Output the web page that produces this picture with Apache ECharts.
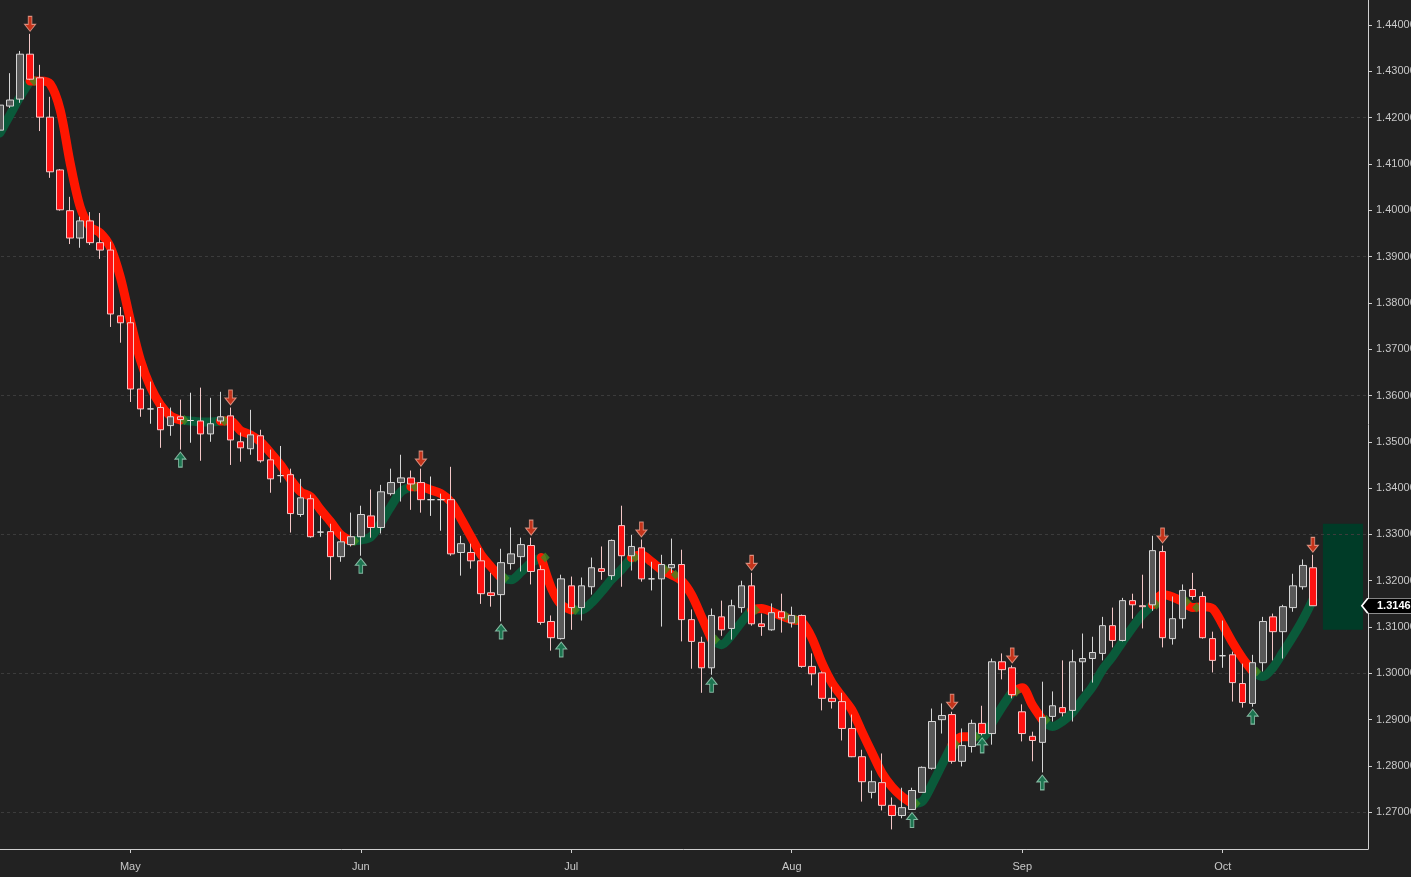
<!DOCTYPE html>
<html>
<head>
<meta charset="utf-8">
<script src="https://cdn.jsdelivr.net/npm/echarts@6.0.0/dist/echarts.min.js"></script>
<style>
html,body{margin:0;padding:0;background:#222222;}
#chart{width:1411px;height:877px;}
</style>
</head>
<body>
<div id="chart"></div>
<script>
// ---- categories (trading days) ----
const dates = [
 '2018-04-12','2018-04-13','2018-04-16','2018-04-17','2018-04-18','2018-04-19','2018-04-20','2018-04-23','2018-04-24','2018-04-25','2018-04-26','2018-04-27','2018-04-30',
 '2018-05-01','2018-05-02','2018-05-03','2018-05-04','2018-05-07','2018-05-08','2018-05-09','2018-05-10','2018-05-11','2018-05-14','2018-05-15','2018-05-16','2018-05-17','2018-05-18','2018-05-21','2018-05-22','2018-05-23','2018-05-24','2018-05-25','2018-05-28','2018-05-29','2018-05-30','2018-05-31',
 '2018-06-01','2018-06-04','2018-06-05','2018-06-06','2018-06-07','2018-06-08','2018-06-11','2018-06-12','2018-06-13','2018-06-14','2018-06-15','2018-06-18','2018-06-19','2018-06-20','2018-06-21','2018-06-22','2018-06-25','2018-06-26','2018-06-27','2018-06-28','2018-06-29',
 '2018-07-02','2018-07-03','2018-07-04','2018-07-05','2018-07-06','2018-07-09','2018-07-10','2018-07-11','2018-07-12','2018-07-13','2018-07-16','2018-07-17','2018-07-18','2018-07-19','2018-07-20','2018-07-23','2018-07-24','2018-07-25','2018-07-26','2018-07-27','2018-07-30','2018-07-31',
 '2018-08-01','2018-08-02','2018-08-03','2018-08-06','2018-08-07','2018-08-08','2018-08-09','2018-08-10','2018-08-13','2018-08-14','2018-08-15','2018-08-16','2018-08-17','2018-08-20','2018-08-21','2018-08-22','2018-08-23','2018-08-24','2018-08-27','2018-08-28','2018-08-29','2018-08-30','2018-08-31',
 '2018-09-03','2018-09-04','2018-09-05','2018-09-06','2018-09-07','2018-09-10','2018-09-11','2018-09-12','2018-09-13','2018-09-14','2018-09-17','2018-09-18','2018-09-19','2018-09-20','2018-09-21','2018-09-24','2018-09-25','2018-09-26','2018-09-27','2018-09-28',
 '2018-10-01','2018-10-02','2018-10-03','2018-10-04','2018-10-05','2018-10-08','2018-10-09','2018-10-10','2018-10-11','2018-10-12','2018-10-15','2018-10-16','2018-10-17','2018-10-18','2018-10-19'
];
const monthNames = ['Jan','Feb','Mar','Apr','May','Jun','Jul','Aug','Sep','Oct','Nov','Dec'];

// ---- OHLC ----
const open = [
 1.4173,1.4225,1.4240,1.4337,1.4286,1.4201,1.4087,1.3999,1.3940,1.3977,1.3930,1.3914,1.3772,
 1.3757,1.3614,1.3571,1.3574,1.3535,1.3554,1.3546,1.3545,1.3517,1.3545,1.3556,1.3500,1.3485,1.3513,1.3461,1.3427,1.3429,1.3343,1.3377,1.3305,1.3306,1.3252,1.3278,
 1.3295,1.3340,1.3315,1.3388,1.3412,1.3422,1.3412,1.3375,1.3375,1.3375,1.3261,1.3261,1.3243,1.3174,1.3170,1.3237,1.3252,1.3276,1.3224,1.3112,1.3075,
 1.3189,1.3142,1.3187,1.3226,1.3211,1.3319,1.3254,1.3271,1.3204,1.3204,1.3228,1.3235,1.3116,1.3067,1.3012,1.3122,1.3097,1.3142,1.3189,1.3107,1.3094,1.3133,
 1.3109,1.3125,1.3015,1.3001,1.2946,1.2939,1.2881,1.2820,1.2743,1.2764,1.2715,1.2693,1.2706,1.2743,1.2795,1.2900,1.2911,1.2810,1.2842,1.2892,1.2870,1.3025,1.3012,
 1.2917,1.2864,1.2851,1.2907,1.2926,1.2920,1.3025,1.3032,1.3043,1.3103,1.3071,1.3157,1.3146,1.3148,1.3263,1.3075,1.3118,1.3181,1.3166,1.3075,
 1.3038,1.3040,1.2978,1.2935,1.3023,1.3122,1.3090,1.3142,1.3187,1.3228
];
const close = [
 1.4227,1.4238,1.4337,1.4283,1.4201,1.4083,1.4001,1.3940,1.3977,1.3930,1.3914,1.3776,1.3757,
 1.3614,1.3571,1.3571,1.3526,1.3554,1.3548,1.3546,1.3517,1.3539,1.3554,1.3504,1.3487,1.3515,1.3459,1.3420,1.3427,1.3345,1.3379,1.3295,1.3305,1.3252,1.3284,1.3295,
 1.3343,1.3315,1.3392,1.3412,1.3422,1.3409,1.3375,1.3375,1.3375,1.3258,1.3280,1.3243,1.3172,1.3168,1.3239,1.3258,1.3278,1.3220,1.3110,1.3077,1.3204,
 1.3142,1.3189,1.3228,1.3220,1.3287,1.3254,1.3274,1.3204,1.3204,1.3235,1.3235,1.3116,1.3069,1.3012,1.3125,1.3094,1.3146,1.3189,1.3107,1.3101,1.3131,1.3120,
 1.3125,1.3015,1.2999,1.2946,1.2939,1.2881,1.2820,1.2766,1.2766,1.2715,1.2693,1.2710,1.2747,1.2797,1.2896,1.2909,1.2810,1.2844,1.2892,1.2870,1.3025,1.3008,1.2954,
 1.2870,1.2855,1.2905,1.2930,1.2915,1.3025,1.3032,1.3045,1.3103,1.3071,1.3157,1.3148,1.3144,1.3265,1.3077,1.3118,1.3179,1.3166,1.3077,1.3028,
 1.3038,1.2980,1.2937,1.3023,1.3112,1.3090,1.3144,1.3189,1.3233,1.3146
];
const low = [
 1.4160,1.4221,1.4232,1.4281,1.4171,1.4070,1.3999,1.3927,1.3919,1.3925,1.3895,1.3748,1.3714,
 1.3586,1.3554,1.3539,1.3487,1.3513,1.3483,1.3498,1.3459,1.3500,1.3539,1.3450,1.3457,1.3472,1.3455,1.3390,1.3412,1.3304,1.3338,1.3293,1.3295,1.3202,1.3241,1.3274,
 1.3254,1.3293,1.3302,1.3384,1.3371,1.3353,1.3347,1.3340,1.3308,1.3254,1.3211,1.3226,1.3150,1.3144,1.3112,1.3224,1.3220,1.3192,1.3105,1.3049,1.3073,
 1.3094,1.3114,1.3170,1.3202,1.3202,1.3187,1.3222,1.3198,1.3179,1.3101,1.3217,1.3069,1.3010,1.2958,1.2997,1.3081,1.3073,1.3131,1.3103,1.3081,1.3092,1.3088,
 1.3099,1.3012,1.2974,1.2920,1.2924,1.2855,1.2819,1.2723,1.2730,1.2704,1.2663,1.2687,1.2705,1.2743,1.2792,1.2870,1.2805,1.2799,1.2829,1.2866,1.2846,1.2987,1.2946,
 1.2853,1.2810,1.2786,1.2896,1.2907,1.2896,1.2961,1.2980,1.3028,1.3056,1.3069,1.3118,1.3097,1.3135,1.3056,1.3062,1.3097,1.3159,1.3075,1.3002,
 1.3012,1.2939,1.2926,1.2928,1.3004,1.3028,1.3032,1.3133,1.3181,1.3146
];
const high = [
 1.4240,1.4296,1.4344,1.4381,1.4314,1.4245,1.4089,1.4029,1.3986,1.3996,1.3994,1.3932,1.3791,
 1.3770,1.3664,1.3630,1.3584,1.3574,1.3591,1.3606,1.3617,1.3595,1.3608,1.3574,1.3520,1.3569,1.3526,1.3483,1.3491,1.3442,1.3420,1.3386,1.3340,1.3323,1.3306,1.3347,
 1.3362,1.3397,1.3407,1.3442,1.3472,1.3438,1.3442,1.3425,1.3388,1.3446,1.3297,1.3280,1.3271,1.3217,1.3269,1.3315,1.3293,1.3293,1.3233,1.3125,1.3213,
 1.3209,1.3207,1.3250,1.3274,1.3289,1.3362,1.3299,1.3289,1.3241,1.3256,1.3291,1.3267,1.3138,1.3079,1.3140,1.3157,1.3159,1.3200,1.3217,1.3129,1.3151,1.3172,
 1.3144,1.3127,1.3043,1.3004,1.2971,1.2958,1.2911,1.2835,1.2790,1.2827,1.2732,1.2753,1.2753,1.2799,1.2924,1.2935,1.2917,1.2881,1.2900,1.2930,1.3032,1.3043,1.3017,
 1.2933,1.2874,1.2982,1.2961,1.3028,1.3051,1.3086,1.3079,1.3122,1.3142,1.3163,1.3172,1.3213,1.3297,1.3276,1.3166,1.3192,1.3217,1.3176,1.3090,
 1.3114,1.3047,1.3021,1.3040,1.3122,1.3129,1.3148,1.3215,1.3246,1.3256
];

// ---- trend ribbon (value per candle) and its direction (u = up/green, d = down/red) ----
const trendLine = [
 1.4167,1.4206,1.4245,1.4279,1.4279,1.4273,1.4217,1.4102,1.4007,1.3964,1.3951,1.3921,1.3856,
 1.3763,1.3677,1.3619,1.3580,1.3556,1.3547,1.3545,1.3543,1.3543,1.3545,1.3545,1.3524,1.3515,1.3500,1.3476,1.3450,1.3418,1.3392,1.3381,1.3353,1.3327,1.3299,1.3286,
 1.3288,1.3295,1.3325,1.3360,1.3392,1.3403,1.3403,1.3396,1.3388,1.3370,1.3334,1.3295,1.3256,1.3230,1.3206,1.3202,1.3219,1.3239,1.3250,1.3185,1.3148,
 1.3137,1.3137,1.3152,1.3176,1.3202,1.3224,1.3250,1.3256,1.3241,1.3224,1.3213,1.3200,1.3170,1.3122,1.3073,1.3062,1.3083,1.3111,1.3137,1.3140,1.3133,1.3124,
 1.3116,1.3111,1.3077,1.3023,1.2980,1.2950,1.2921,1.2874,1.2829,1.2785,1.2755,1.2734,1.2719,1.2723,1.2760,1.2803,1.2846,1.2863,1.2863,1.2863,1.2893,1.2928,1.2960,
 1.2969,1.2932,1.2900,1.2885,1.2896,1.2915,1.2943,1.2971,1.3008,1.3036,1.3068,1.3099,1.3127,1.3148,1.3170,1.3165,1.3155,1.3142,1.3144,1.3140,
 1.3105,1.3066,1.3032,1.3004,1.2993,1.3012,1.3045,1.3079,1.3116,1.3159
];
const trendDir = [
 'u','u','u','u','d','d','d','d','d','d','d','d','d',
 'd','d','d','d','d','d','u','u','u','u','d','d','d','d','d','d','d','d','d','d','d','d','d',
 'u','u','u','u','u','u','d','d','d','d','d','d','d','d','d','u','u','u','u','d','d',
 'd','u','u','u','u','u','u','d','d','d','u','d','d','d','d','u','u','u','u','d','d','d',
 'u','d','d','d','d','d','d','d','d','d','d','d','d','u','u','u','u','d','d','u','u','u','u',
 'd','d','d','u','u','u','u','u','u','u','u','u','u','u','d','d','d','u','d','d',
 'd','d','d','d','u','u','u','u','u','u'
];

// ---- signal arrows (candle indices) ----
const sellSignals = [3,23,42,53,64,75,95,101,116,131];
const buySignals = [18,36,50,56,71,91,98,104,125];

// ---- axis / annotation values ----
const yTicks = [1.27,1.28,1.29,1.30,1.31,1.32,1.33,1.34,1.35,1.36,1.37,1.38,1.39,1.40,1.41,1.42,1.43,1.44];
const gridLevels = [1.27,1.30,1.33,1.36,1.39,1.42];
const yMin = 1.26207, yMax = 1.44540;
const lastPrice = 1.3146;
const targetZone = {fromIdx: 132, toIdx: 136, top: 1.3323, bottom: 1.3094};

// ---- build series data ----
const n = open.length;
const candles = open.map((o, i) => [o, close[i], low[i], high[i]]);
const redLine = trendLine.map((v, i) => (trendDir[i] === 'd' || (i + 1 < n && trendDir[i + 1] === 'd')) ? v : null);
const greenLine = trendLine.map((v, i) => (trendDir[i] === 'u' || (i + 1 < n && trendDir[i + 1] === 'u')) ? v : null);
const turnPoints = [];
for (let i = 1; i < n; i++) { if (trendDir[i] !== trendDir[i - 1]) turnPoints.push([i - 1, trendLine[i - 1]]); }
const isMonthStart = (i) => i > 0 && dates[i].slice(5, 7) !== dates[i - 1].slice(5, 7);

const FONT = 'Liberation Sans, Arial, sans-serif';
const downArrow = 'path://M4,0 L8,0 L8,8 L12,8 L6,15 L0,8 L4,8 Z';
const upArrow = 'path://M4,15 L8,15 L8,7 L12,7 L6,0 L0,7 L4,7 Z';
const priceTag = 'path://M0,7.5 L6,0 L70,0 L70,15 L6,15 Z';

const chart = echarts.init(document.getElementById('chart'), null, {renderer: 'canvas'});
chart.setOption({
  backgroundColor: '#222222',
  animation: false,
  grid: {left: -5, right: 43, top: 0, bottom: 28, containLabel: false, outerBoundsMode: 'none'},
  xAxis: {
    type: 'category',
    data: dates,
    boundaryGap: true,
    axisLine: {show: true, lineStyle: {color: '#d0d0d0', width: 1}},
    axisTick: {show: true, length: 4, alignWithLabel: true, interval: (i) => isMonthStart(i), lineStyle: {color: '#d0d0d0'}},
    axisLabel: {
      interval: (i) => isMonthStart(i),
      formatter: (v) => monthNames[parseInt(v.slice(5, 7), 10) - 1],
      color: '#c8c8c8', fontSize: 11, fontFamily: FONT, margin: 12
    },
    splitLine: {show: false}
  },
  yAxis: {
    type: 'value',
    position: 'right',
    min: yMin, max: yMax,
    splitNumber: 18,
    axisLine: {show: true, lineStyle: {color: '#d0d0d0', width: 1}},
    axisTick: {show: true, length: 4, lineStyle: {color: '#d0d0d0'}, customValues: yTicks},
    axisLabel: {
      customValues: yTicks,
      formatter: (v) => v.toFixed(5),
      color: '#c8c8c8', fontSize: 11, fontFamily: FONT, margin: 8
    },
    splitLine: {show: false}
  },
  series: [
    {
      type: 'line', name: 'trendUp', data: greenLine, z: 1,
      showSymbol: false, smooth: 0.3, connectNulls: false,
      lineStyle: {color: '#0a5a3a', width: 9, cap: 'round', join: 'round'},
      silent: true,
      markLine: {
        silent: true, symbol: 'none', z: 0,
        label: {show: false},
        lineStyle: {color: '#3c3c3c', type: [3, 3], width: 1},
        data: gridLevels.map(v => ({yAxis: v}))
      }
    },
    {
      type: 'line', name: 'trendDown', data: redLine, z: 1,
      showSymbol: false, smooth: 0.3, connectNulls: false,
      lineStyle: {color: '#ff1600', width: 9, cap: 'round', join: 'round'},
      silent: true
    },
    {
      type: 'scatter', name: 'turn', z: 1, silent: true,
      data: turnPoints,
      symbol: 'diamond', symbolSize: [9, 10], symbolOffset: [4, 0],
      itemStyle: {color: '#3f8a22'}
    },
    {
      type: 'candlestick', name: 'GBPUSD', data: candles, z: 2,
      barWidth: 7,
      itemStyle: {
        color: '#585858', color0: '#ff1212',
        borderColor: '#d6d6d6', borderColor0: '#f4c8c8', borderColorDoji: '#e0e0e0',
        borderWidth: 1
      },
      markArea: {
        silent: true, z: 0,
        itemStyle: {color: '#003b27'},
        data: [[
          {xAxis: dates[targetZone.fromIdx], yAxis: targetZone.top},
          {xAxis: dates[targetZone.toIdx], yAxis: targetZone.bottom}
        ]]
      },
      markPoint: {
        silent: true, z: 10,
        symbol: priceTag, symbolSize: [70, 15], symbolKeepAspect: false,
        symbolOffset: [84, 0],
        itemStyle: {color: '#000000', borderColor: '#ffffff', borderWidth: 1},
        label: {
          show: true, position: 'inside',
          formatter: () => lastPrice.toFixed(5),
          color: '#ffffff', fontWeight: 'bold', fontSize: 11, fontFamily: FONT
        },
        data: [{coord: [n - 1, lastPrice]}]
      }
    },
    {
      type: 'scatter', name: 'sell', z: 3, silent: true,
      data: sellSignals.map(i => [i, high[i]]),
      symbol: downArrow, symbolSize: [11, 15], symbolOffset: [0, -10],
      itemStyle: {color: '#ee3a1a', borderColor: '#f3a593', borderWidth: 1}
    },
    {
      type: 'scatter', name: 'buy', z: 3, silent: true,
      data: buySignals.map(i => [i, low[i]]),
      symbol: upArrow, symbolSize: [11, 15], symbolOffset: [0, 10],
      itemStyle: {color: '#1d8a5c', borderColor: '#9fd3bb', borderWidth: 1}
    }
  ]
});
</script>
</body>
</html>
